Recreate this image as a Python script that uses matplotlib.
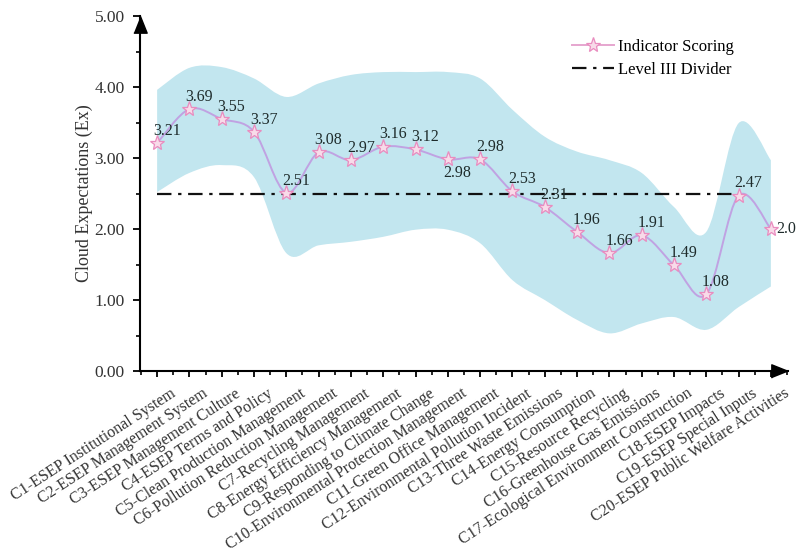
import matplotlib
matplotlib.use("Agg")
import matplotlib.pyplot as plt
import matplotlib.transforms as mtrans
from matplotlib.path import Path
from matplotlib.patches import PathPatch
import numpy as np

plt.rcParams['font.family'] = ['Liberation Serif', 'DejaVu Serif']

# indicator names and scores
indicators = [
    "C1-ESEP Institutional System", "C2-ESEP Management System",
    "C3-ESEP Management Culture", "C4-ESEP Terms and Policy",
    "C5-Clean Production Management", "C6-Pollution Reduction Management",
    "C7-Recycling Management", "C8-Energy Efficiency Management",
    "C9-Responding to Climate Change", "C10-Environmental Protection Management",
    "C11-Green Office Management", "C12-Environmental Pollution Incident",
    "C13-Three Waste Emissions", "C14-Energy Consumption",
    "C15-Resource Recycling", "C16-Greenhouse Gas Emissions",
    "C17-Ecological Environment Construction", "C18-ESEP Impacts",
    "C19-ESEP Special Inputs", "C20-ESEP Public Welfare Activities",
]
scores = [3.21, 3.69, 3.55, 3.37, 2.51, 3.08, 2.97, 3.16, 3.12, 2.98,
          2.98, 2.53, 2.31, 1.96, 1.66, 1.91, 1.49, 1.08, 2.47, 2.0]
score_text = ["3.21", "3.69", "3.55", "3.37", "2.51", "3.08", "2.97", "3.16", "3.12", "2.98",
              "2.98", "2.53", "2.31", "1.96", "1.66", "1.91", "1.49", "1.08", "2.47", "2.0"]
# cloud band envelope
band_upper = [3.96, 4.27, 4.28, 4.12, 3.86, 4.05, 4.17, 4.21, 4.21, 4.21,
              4.12, 3.68, 3.30, 3.09, 2.97, 2.79, 2.31, 1.96, 3.49, 2.97]
band_lower = [2.52, 2.79, 2.90, 2.73, 1.66, 1.77, 1.82, 1.89, 1.99, 1.99,
              1.80, 1.28, 1.00, 0.72, 0.53, 0.67, 0.76, 0.58, 0.90, 1.19]
divider = 2.5


def smooth_path(xs, ys):
    # Catmull-Rom through the points, drawn as cubic bezier segments
    pts = np.column_stack([xs, ys]).astype(float)
    verts = [pts[0]]
    codes = [Path.MOVETO]
    n = len(pts)
    for i in range(n - 1):
        p0 = pts[max(i - 1, 0)]
        p1 = pts[i]
        p2 = pts[i + 1]
        p3 = pts[min(i + 2, n - 1)]
        c1 = p1 + (p2 - p0) / 6
        c2 = p2 - (p3 - p1) / 6
        verts += [c1, c2, p2]
        codes += [Path.CURVE4] * 3
    return verts, codes


fig = plt.figure(figsize=(7.99, 5.53), dpi=100)
ax = fig.add_axes([140 / 799, 1 - 371 / 553, 648 / 799, 355 / 553])

x = np.arange(len(scores))

# band
vu, cu = smooth_path(x, band_upper)
vl, cl = smooth_path(x[::-1], band_lower[::-1])
verts = vu + [vl[0]] + vl[1:] + [vu[0]]
codes = cu + [Path.LINETO] + cl[1:] + [Path.CLOSEPOLY]
ax.add_patch(PathPatch(Path(verts, codes), facecolor='#c2e6ef', edgecolor='none', zorder=1))

# divider
div_line, = ax.plot([x[0], x[18]], [divider, divider], color='#111111', lw=1.6,
                    dashes=[6.5, 3, 1.5, 3], zorder=2)

# smooth score line
vs, cs = smooth_path(x, scores)
ax.add_patch(PathPatch(Path(vs, cs), facecolor='none', edgecolor='#c0a2e2', lw=1.4, zorder=3))
ax.plot(x, scores, linestyle='none', marker='*', ms=11, mfc='#f8dbe9', mec='#e98cbf',
        mew=0.9, zorder=4)
score_handle, = ax.plot([], [], color='#e6a6cf', lw=1.4, marker='*', ms=11, mfc='#f8dbe9',
                        mec='#e98cbf', mew=0.9)

# value labels
for i, (v, t) in enumerate(zip(scores, score_text)):
    if i == 9:
        ax.annotate(t, (i, v), xytext=(-3, -4), textcoords='offset points',
                    ha='left', va='top', fontsize=11.5, color='#1e2b2b', zorder=5)
    elif i == 19:
        ax.annotate(t, (i, v), xytext=(4, 0), textcoords='offset points',
                    ha='left', va='center', fontsize=11.5, color='#1e2b2b', zorder=5)
    else:
        ax.annotate(t, (i, v), xytext=(-3, 3), textcoords='offset points',
                    ha='left', va='bottom', fontsize=11.5, color='#1e2b2b', zorder=5)

ax.set_xlim(-0.53, 19.53)
ax.set_ylim(0, 5)

for s in ['top', 'right']:
    ax.spines[s].set_visible(False)
for s in ['left', 'bottom']:
    ax.spines[s].set_linewidth(1.5)

ax.set_yticks([0, 1, 2, 3, 4, 5])
ax.set_yticklabels(["0.00", "1.00", "2.00", "3.00", "4.00", "5.00"])
ax.set_yticks(np.arange(0.5, 5, 1), minor=True)
ax.set_xticks(x)
ax.set_xticks(np.arange(-0.5, 19.6, 1), minor=True)
ax.tick_params(axis='y', which='major', length=5, width=1.3, pad=6, labelsize=12.5, labelcolor='#333333')
ax.tick_params(axis='y', which='minor', length=3, width=1.2)
ax.tick_params(axis='x', which='major', length=4, width=1.3, pad=0)
ax.tick_params(axis='x', which='minor', length=3, width=1.2)

ax.set_xticklabels(indicators, rotation=33, ha='right', va='top', rotation_mode='anchor',
                   fontsize=11.5, color='#333333')
shift = mtrans.ScaledTranslation(13 / 100, -9 / 100, fig.dpi_scale_trans)
for lab in ax.get_xticklabels():
    lab.set_transform(lab.get_transform() + shift)

ax.set_ylabel("Cloud Expectations (Ex)", fontsize=13, color='#333333', labelpad=1)

# axis arrows
ax.plot([0], [1], marker=[(-4, -10), (4, -10), (0, 0)], ms=24, color='k',
        transform=ax.transAxes, clip_on=False, zorder=6)
ax.plot([1], [0], marker=[(-10, -4), (-10, 4), (0, 0)], ms=24, color='k',
        transform=ax.transAxes, clip_on=False, zorder=6)

ax.legend([score_handle, div_line], ['Indicator Scoring', 'Level III Divider'],
          loc='upper left', bbox_to_anchor=(0.667, 0.935), frameon=False,
          borderaxespad=0, borderpad=0, handlelength=2.5, handletextpad=0.25,
          labelspacing=0.4, fontsize=12)

fig.savefig("out.png", dpi=100)
